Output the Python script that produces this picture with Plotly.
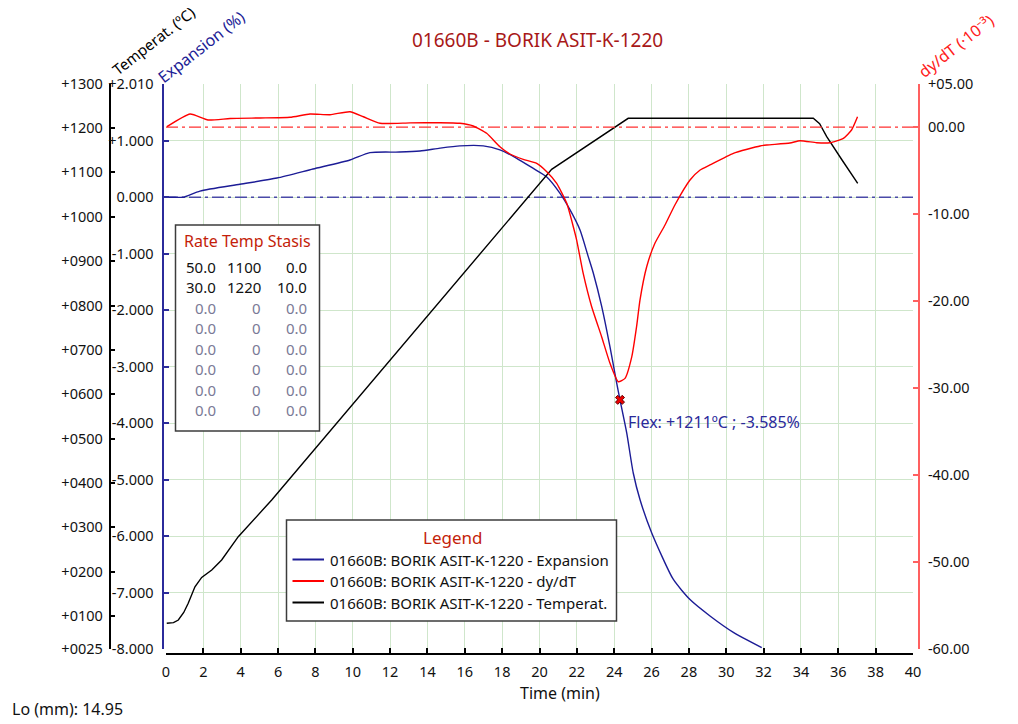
import plotly.graph_objects as go

# ---------------- data ----------------
temp_time = [0.04, 0.4, 0.66, 0.95, 1.19, 1.55, 1.91, 2.45, 2.98, 3.87, 5.66, 20.65, 24.75, 34.66, 35.0, 35.38, 36.2, 37.04]
temp_vals = [83.6, 85, 91, 108, 128.7, 166, 187, 203.8, 226.3, 278.8, 361.6, 1107, 1222, 1222, 1210, 1180.6, 1128, 1075.5]

exp_time = [0.0, 0.5, 0.91, 1.82, 3.96, 5.94, 7.87, 9.85, 10.92, 12.5, 13.6, 14.67, 15.74, 16.99,
            17.88, 18.78, 19.67, 20.39, 21.1, 21.63, 22.17, 22.61, 22.88, 23.33, 23.77, 24.1,
            24.31, 24.67, 25.02, 25.38, 26.01, 27.16, 28.06, 29.13, 30.38, 31.9]
exp_vals = [0.0, 0.0, 0.0, 0.11, 0.23, 0.34, 0.50, 0.66, 0.79, 0.80, 0.82, 0.87, 0.91, 0.91,
            0.84, 0.69, 0.51, 0.36, 0.07, -0.22, -0.58, -1.05, -1.34, -1.93, -2.64, -3.23,
            -3.585, -4.17, -4.88, -5.35, -5.94, -6.76, -7.12, -7.41, -7.70, -7.97]

dydt_time = [0.05, 1.29, 2.25, 3.43, 5.03, 6.64, 7.71, 8.78, 9.85, 10.57, 11.46, 13.07, 14.67, 15.74,
             16.45, 17.17, 17.88, 18.42, 19.13, 19.85, 20.39, 20.92, 21.46, 21.81, 21.99, 22.34,
             22.79, 23.33, 23.77, 24.22, 24.58, 24.94, 25.2, 25.38, 25.74, 26.18, 26.72, 27.25,
             28.06, 28.6, 29.13, 30.38, 31.81, 32.17, 33.41, 33.95, 34.84, 35.55, 36.27, 36.71, 37.03]
dydt_vals = [0.06, 1.52, 0.83, 1.0, 1.06, 1.14, 1.52, 1.44, 1.78, 1.2, 0.45, 0.5, 0.52, 0.45,
             0.14, -0.7, -2.24, -3.08, -3.69, -4.15, -5.11, -6.45, -8.75, -11.44, -12.97, -16.8,
             -20.6, -24.1, -27.1, -29.25, -28.86, -26.4, -22.9, -19.86, -16.03, -13.34, -11.24, -8.94,
             -6.07, -4.92, -4.34, -3.0, -2.16, -2.05, -1.82, -1.55, -1.78, -1.78, -1.28, -0.32, 1.2]

flex_time = [24.31]
flex_exp = [-3.585]
flex_label = "Flex: +1211ºC ; -3.585%"

x_ticks = list(range(0, 41, 2))
exp_tickvals = [2.01, 1, 0, -1, -2, -3, -4, -5, -6, -7, -8]
exp_ticktext = ["+2.010", "+1.000", "0.000", "-1.000", "-2.000", "-3.000", "-4.000",
                "-5.000", "-6.000", "-7.000", "-8.000"]
temp_tickvals = [1300, 1200, 1100, 1000, 900, 800, 700, 600, 500, 400, 300, 200, 100, 25]
temp_ticktext = ["+1300", "+1200", "+1100", "+1000", "+0900", "+0800", "+0700", "+0600",
                 "+0500", "+0400", "+0300", "+0200", "+0100", "+0025"]
dydt_tickvals = [5, 0, -10, -20, -30, -40, -50, -60]
dydt_ticktext = ["+05.00", "00.00", "-10.00", "-20.00", "-30.00", "-40.00", "-50.00", "-60.00"]

rate_header = "Rate Temp Stasis"
rate_col = ["50.0", "30.0", "0.0", "0.0", "0.0", "0.0", "0.0", "0.0"]
temp_col = ["1100", "1220", "0", "0", "0", "0", "0", "0"]
stasis_col = ["0.0", "10.0", "0.0", "0.0", "0.0", "0.0", "0.0", "0.0"]

legend_names = ["01660B: BORIK ASIT-K-1220 - Expansion",
                "01660B: BORIK ASIT-K-1220 - dy/dT",
                "01660B: BORIK ASIT-K-1220 - Temperat."]

# ---------------- geometry helpers ----------------
W, H = 1018, 724
ML, MR, MT, MB = 50, 50, 80, 65
PW = W - ML - MR
PH = H - MT - MB


def px(x):
    return (x - ML) / PW


def py(y):
    return (H - MB - y) / PH


FONT = "Noto Sans, Tahoma, DejaVu Sans, sans-serif"
BLUE = "#1c1c96"
RED = "#ff0000"
GRID = "#cfe6cb"
TITLE_RED = "#a81818"

fig = go.Figure()

# zero reference lines
fig.add_trace(go.Scatter(x=[0, 40], y=[0, 0], mode="lines", yaxis="y",
                         line=dict(color="#4a4aa8", width=1.5, dash="12px,4px,3px,4px"),
                         showlegend=False, hoverinfo="skip"))

fig.add_trace(go.Scatter(x=exp_time, y=exp_vals, mode="lines", yaxis="y",
                         line=dict(color=BLUE, width=1.4, shape="spline", smoothing=0.6),
                         name=legend_names[0], showlegend=False))
fig.add_trace(go.Scatter(x=flex_time, y=flex_exp, mode="markers", yaxis="y",
                         marker=dict(symbol="x", size=8, color="#ee0000",
                                     line=dict(color="#600000", width=1)),
                         showlegend=False))

fig.add_trace(go.Scatter(x=temp_time, y=temp_vals, mode="lines", yaxis="y2",
                         line=dict(color="#000000", width=1.4),
                         name=legend_names[2], showlegend=False))

fig.add_trace(go.Scatter(x=[0, 40], y=[0, 0], mode="lines", yaxis="y3",
                         line=dict(color="#ff3030", width=1.2, dash="12px,4px,3px,4px"),
                         showlegend=False, hoverinfo="skip"))
fig.add_trace(go.Scatter(x=dydt_time, y=dydt_vals, mode="lines", yaxis="y3",
                         line=dict(color=RED, width=1.4, shape="spline", smoothing=0.5),
                         name=legend_names[1], showlegend=False))

tickfont = dict(family=FONT, size=14.5, color="#111111")

fig.update_layout(
    width=W, height=H,
    margin=dict(l=ML, r=MR, t=MT, b=MB, pad=0),
    paper_bgcolor="white", plot_bgcolor="white",
    showlegend=False,
    font=dict(family=FONT, size=14, color="#111111"),
    xaxis=dict(domain=[px(166), px(913)], range=[0, 40], tickvals=x_ticks,
               showgrid=True, gridcolor=GRID, gridwidth=1, zeroline=False,
               showline=True, linecolor="#000000", linewidth=2,
               ticks="inside", ticklen=5, tickcolor="#000000", tickwidth=1.5,
               anchor="free", position=py(653.5), tickfont=tickfont,
               ticklabelstandoff=5),
    yaxis=dict(domain=[py(649.3), py(83.7)], range=[-8, 2.01],
               tickvals=exp_tickvals, ticktext=exp_ticktext,
               showgrid=True, gridcolor=GRID, gridwidth=1, zeroline=False,
               showline=True, linecolor="#2b2b9b", linewidth=2,
               ticks="inside", ticklen=5, tickcolor="#2b2b9b", tickwidth=1.5,
               anchor="free", position=px(162.5), side="left", tickfont=tickfont,
               ticklabelstandoff=5),
    yaxis2=dict(overlaying="y", range=[25, 1300],
                tickvals=temp_tickvals, ticktext=temp_ticktext,
                showgrid=False, zeroline=False,
                showline=True, linecolor="#000000", linewidth=1.5,
                ticks="inside", ticklen=5, tickcolor="#000000", tickwidth=1.5,
                anchor="free", position=px(109.5), side="left", tickfont=tickfont,
                ticklabelstandoff=3),
    yaxis3=dict(overlaying="y", range=[-60, 5],
                tickvals=dydt_tickvals, ticktext=dydt_ticktext,
                showgrid=False, zeroline=False,
                showline=True, linecolor="#ff6060", linewidth=2,
                ticks="inside", ticklen=5, tickcolor="#ff6060", tickwidth=1.5,
                anchor="free", position=px(919), side="right", tickfont=tickfont,
                ticklabelstandoff=5),
)

ann = []


def add_text(x, y, text, size=14, color="#111111", xanchor="center", yanchor="middle", angle=0):
    ann.append(dict(x=px(x), y=py(y), xref="paper", yref="paper", text=text, showarrow=False,
                    xanchor=xanchor, yanchor=yanchor, textangle=angle,
                    font=dict(family=FONT, size=size, color=color)))


add_text(537, 40, "01660B - BORIK ASIT-K-1220", size=19, color=TITLE_RED)
add_text(560, 693, "Time (min)", size=16)
add_text(10, 709, "Lo (mm): 14.95", size=16, xanchor="left")
add_text(153, 41, "Temperat. (ºC)", size=15, color="#000000", angle=-38)
add_text(201, 47, "Expansion (%)", size=16, color=BLUE, angle=-38)
add_text(956, 46, "dy/dT (·10⁻³)", size=16, color="#ff2020", angle=-38)
add_text(626, 422, flex_label, size=16, color="#2a2a9a", xanchor="left")

# rate table
shapes = []
shapes.append(dict(type="rect", xref="paper", yref="paper", x0=px(175.5), x1=px(319.5),
                   y0=py(431), y1=py(225), fillcolor="white",
                   line=dict(color="#3c3c3c", width=1.5), layer="above"))
add_text(247, 240.5, rate_header, size=16, color="#c41e0a")
row_y = [266.7, 286.7, 307.5, 328, 348.5, 369, 389.5, 410]
for i in range(len(rate_col)):
    c = "#111111" if i < 2 else "#7a7a96"
    add_text(217.5, row_y[i], rate_col[i], size=15, color=c, xanchor="right")
    add_text(262.5, row_y[i], temp_col[i], size=15, color=c, xanchor="right")
    add_text(308.5, row_y[i], stasis_col[i], size=15, color=c, xanchor="right")

# legend box
shapes.append(dict(type="rect", xref="paper", yref="paper", x0=px(286.5), x1=px(616.5),
                   y0=py(621), y1=py(520), fillcolor="white",
                   line=dict(color="#3c3c3c", width=1.5), layer="above"))
add_text(453, 537.5, "Legend", size=17, color="#c41e0a")
leg_y = [559.5, 581, 602.5]
leg_col = [BLUE, RED, "#000000"]
for i in range(3):
    shapes.append(dict(type="line", xref="paper", yref="paper", x0=px(292.5), x1=px(324),
                       y0=py(leg_y[i]), y1=py(leg_y[i]), line=dict(color=leg_col[i], width=2),
                       layer="above"))
    add_text(328, leg_y[i], legend_names[i], size=15, color="#111111", xanchor="left")

fig.update_layout(annotations=ann, shapes=shapes)

fig.write_html("out.html")
